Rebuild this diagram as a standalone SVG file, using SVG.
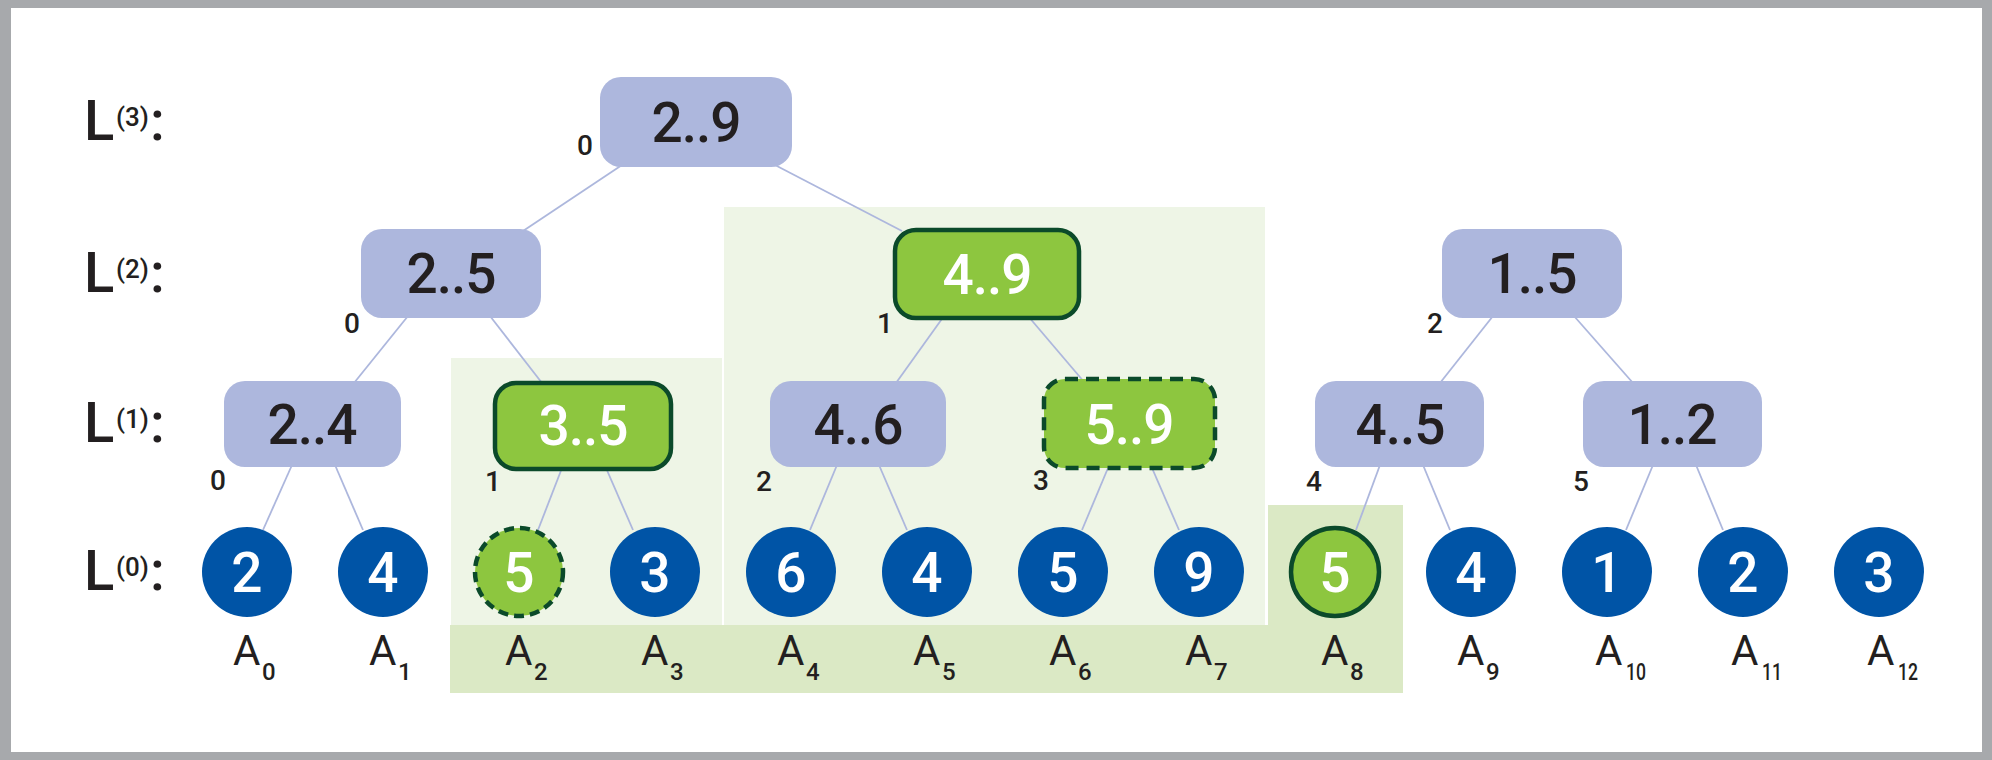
<svg xmlns="http://www.w3.org/2000/svg" width="1992" height="760" viewBox="0 0 1992 760">
  <defs>
    <style>
      .txt { font-family: Roboto, "Liberation Sans", "DejaVu Sans", sans-serif; }
      .range { font-size: 55px; font-weight: 500; text-anchor: middle; fill: #231f20; letter-spacing: -1px; }
      .range-w { font-size: 55px; font-weight: 500; text-anchor: middle; fill: #ffffff; letter-spacing: -1px; }
      .leaf { font-size: 55px; font-weight: 500; text-anchor: middle; fill: #ffffff; }
      .idx { font-size: 28px; font-weight: 500; text-anchor: middle; fill: #231f20; }
      .lvl { font-size: 56px; font-weight: 500; fill: #231f20; }
      .lvl-sup { font-size: 26px; font-weight: 500; fill: #231f20; }
      .arr { font-size: 42px; font-weight: 400; fill: #231f20; }
      .arr-sub { font-size: 24px; font-weight: 500; fill: #231f20; }
      .box { fill: #adb7dd; }
      .box-hl { fill: #8dc63f; stroke: #0b4a2a; stroke-width: 4.5; }
      .box-hl-dash { fill: #8dc63f; stroke: #0b4a2a; stroke-width: 4.5; stroke-dasharray: 13 8; }
      .leaf-c { fill: #0054a6; }
      .leaf-hl { fill: #8dc63f; stroke: #0b4a2a; stroke-width: 4.5; }
      .leaf-hl-dash { fill: #8dc63f; stroke: #0b4a2a; stroke-width: 4.5; stroke-dasharray: 10 6; }
      .edge { stroke: #adb7dd; stroke-width: 1.8; fill: none; }
    </style>
  </defs>

  <!-- frame -->
  <rect x="0" y="0" width="1992" height="760" fill="#a7a9ac"/>
  <rect x="11" y="8" width="1971" height="744" fill="#ffffff"/>

  <!-- highlighted ranges -->
  <g id="highlights">
    <rect x="451" y="358" width="271" height="267" fill="#eef5e6"/>
    <rect x="724" y="207" width="541" height="418" fill="#eef5e6"/>
    <path d="M450 625 H1268 V505 H1403 V693 H450 Z" fill="#dbe9c5"/>
  </g>

  <!-- level labels -->
  <g id="levels" class="txt">
    <text class="lvl" x="84" y="140">L</text><text class="lvl-sup" x="116" y="126">(3)</text><text class="lvl" x="150" y="140">:</text>
    <text class="lvl" x="84" y="292">L</text><text class="lvl-sup" x="116" y="278">(2)</text><text class="lvl" x="150" y="292">:</text>
    <text class="lvl" x="84" y="442">L</text><text class="lvl-sup" x="116" y="428">(1)</text><text class="lvl" x="150" y="442">:</text>
    <text class="lvl" x="84" y="590">L</text><text class="lvl-sup" x="116" y="576">(0)</text><text class="lvl" x="150" y="590">:</text>
  </g>

  <!-- tree edges -->
  <g id="connectors" class="edge">
    <line x1="622" y1="165" x2="523" y2="231"/>
    <line x1="775" y1="165" x2="902" y2="231"/>
    <line x1="408" y1="316" x2="354" y2="383"/>
    <line x1="490" y1="316" x2="542" y2="383"/>
    <line x1="944" y1="316" x2="896" y2="383"/>
    <line x1="1028" y1="316" x2="1085" y2="383"/>
    <line x1="1493" y1="316" x2="1440" y2="383"/>
    <line x1="1574" y1="316" x2="1633" y2="383"/>
    <line x1="292" y1="465" x2="263" y2="530"/>
    <line x1="335" y1="465" x2="363" y2="530"/>
    <line x1="562" y1="468" x2="538" y2="530"/>
    <line x1="606" y1="468" x2="633" y2="530"/>
    <line x1="837" y1="465" x2="810" y2="530"/>
    <line x1="879" y1="465" x2="907" y2="530"/>
    <line x1="1108" y1="468" x2="1082" y2="530"/>
    <line x1="1152" y1="468" x2="1179" y2="530"/>
    <line x1="1380" y1="465" x2="1356" y2="530"/>
    <line x1="1423" y1="465" x2="1450" y2="530"/>
    <line x1="1653" y1="465" x2="1626" y2="530"/>
    <line x1="1696" y1="465" x2="1723" y2="530"/>
  </g>

  <!-- level 3 -->
  <g id="n3-0" class="txt">
    <rect class="box" x="600" y="77" width="192" height="90" rx="21"/>
    <text class="range" x="696" y="142">2..9</text>
    <text class="idx" x="585" y="155">0</text>
  </g>

  <!-- level 2 -->
  <g id="n2-0" class="txt">
    <rect class="box" x="361" y="229" width="180" height="89" rx="21"/>
    <text class="range" x="451" y="293">2..5</text>
    <text class="idx" x="352" y="333">0</text>
  </g>
  <g id="n2-1" class="txt">
    <rect class="box-hl" x="895" y="230" width="184" height="88" rx="21"/>
    <text class="range-w" x="987" y="294">4..9</text>
    <text class="idx" x="885" y="333">1</text>
  </g>
  <g id="n2-2" class="txt">
    <rect class="box" x="1442" y="229" width="180" height="89" rx="21"/>
    <text class="range" x="1532" y="293">1..5</text>
    <text class="idx" x="1435" y="333">2</text>
  </g>

  <!-- level 1 -->
  <g id="n1-0" class="txt">
    <rect class="box" x="224" y="381" width="177" height="86" rx="21"/>
    <text class="range" x="312" y="444">2..4</text>
    <text class="idx" x="218" y="490">0</text>
  </g>
  <g id="n1-1" class="txt">
    <rect class="box-hl" x="495" y="383" width="176" height="86" rx="21"/>
    <text class="range-w" x="583" y="445">3..5</text>
    <text class="idx" x="493" y="491">1</text>
  </g>
  <g id="n1-2" class="txt">
    <rect class="box" x="770" y="381" width="176" height="86" rx="21"/>
    <text class="range" x="858" y="444">4..6</text>
    <text class="idx" x="764" y="491">2</text>
  </g>
  <g id="n1-3" class="txt">
    <rect class="box-hl-dash" x="1044" y="379" width="171" height="89" rx="21"/>
    <text class="range-w" x="1129" y="444">5..9</text>
    <text class="idx" x="1041" y="490">3</text>
  </g>
  <g id="n1-4" class="txt">
    <rect class="box" x="1315" y="381" width="169" height="86" rx="21"/>
    <text class="range" x="1400" y="444">4..5</text>
    <text class="idx" x="1314" y="491">4</text>
  </g>
  <g id="n1-5" class="txt">
    <rect class="box" x="1583" y="381" width="179" height="86" rx="21"/>
    <text class="range" x="1672" y="444">1..2</text>
    <text class="idx" x="1581" y="491">5</text>
  </g>

  <!-- level 0: array elements -->
  <g id="a0" class="txt"><circle class="leaf-c" cx="247" cy="572" r="45"/><text class="leaf" x="247" y="592">2</text>
    <text class="arr" x="233" y="665">A</text><text class="arr-sub" x="262" y="680">0</text></g>
  <g id="a1" class="txt"><circle class="leaf-c" cx="383" cy="572" r="45"/><text class="leaf" x="383" y="592">4</text>
    <text class="arr" x="369" y="665">A</text><text class="arr-sub" x="398" y="680">1</text></g>
  <g id="a2" class="txt"><circle class="leaf-hl-dash" cx="519" cy="572" r="44"/><text class="leaf" x="519" y="592">5</text>
    <text class="arr" x="505" y="665">A</text><text class="arr-sub" x="534" y="680">2</text></g>
  <g id="a3" class="txt"><circle class="leaf-c" cx="655" cy="572" r="45"/><text class="leaf" x="655" y="592">3</text>
    <text class="arr" x="641" y="665">A</text><text class="arr-sub" x="670" y="680">3</text></g>
  <g id="a4" class="txt"><circle class="leaf-c" cx="791" cy="572" r="45"/><text class="leaf" x="791" y="592">6</text>
    <text class="arr" x="777" y="665">A</text><text class="arr-sub" x="806" y="680">4</text></g>
  <g id="a5" class="txt"><circle class="leaf-c" cx="927" cy="572" r="45"/><text class="leaf" x="927" y="592">4</text>
    <text class="arr" x="913" y="665">A</text><text class="arr-sub" x="942" y="680">5</text></g>
  <g id="a6" class="txt"><circle class="leaf-c" cx="1063" cy="572" r="45"/><text class="leaf" x="1063" y="592">5</text>
    <text class="arr" x="1049" y="665">A</text><text class="arr-sub" x="1078" y="680">6</text></g>
  <g id="a7" class="txt"><circle class="leaf-c" cx="1199" cy="572" r="45"/><text class="leaf" x="1199" y="592">9</text>
    <text class="arr" x="1185" y="665">A</text><text class="arr-sub" x="1214" y="680">7</text></g>
  <g id="a8" class="txt"><circle class="leaf-hl" cx="1335" cy="572" r="44"/><text class="leaf" x="1335" y="592">5</text>
    <text class="arr" x="1321" y="665">A</text><text class="arr-sub" x="1350" y="680">8</text></g>
  <g id="a9" class="txt"><circle class="leaf-c" cx="1471" cy="572" r="45"/><text class="leaf" x="1471" y="592">4</text>
    <text class="arr" x="1457" y="665">A</text><text class="arr-sub" x="1486" y="680">9</text></g>
  <g id="a10" class="txt"><circle class="leaf-c" cx="1607" cy="572" r="45"/><text class="leaf" x="1607" y="592">1</text>
    <text class="arr" x="1595" y="665">A</text><text class="arr-sub" x="1626" y="680" textLength="20" lengthAdjust="spacingAndGlyphs">10</text></g>
  <g id="a11" class="txt"><circle class="leaf-c" cx="1743" cy="572" r="45"/><text class="leaf" x="1743" y="592">2</text>
    <text class="arr" x="1731" y="665">A</text><text class="arr-sub" x="1762" y="680" textLength="20" lengthAdjust="spacingAndGlyphs">11</text></g>
  <g id="a12" class="txt"><circle class="leaf-c" cx="1879" cy="572" r="45"/><text class="leaf" x="1879" y="592">3</text>
    <text class="arr" x="1867" y="665">A</text><text class="arr-sub" x="1898" y="680" textLength="20" lengthAdjust="spacingAndGlyphs">12</text></g>
</svg>
